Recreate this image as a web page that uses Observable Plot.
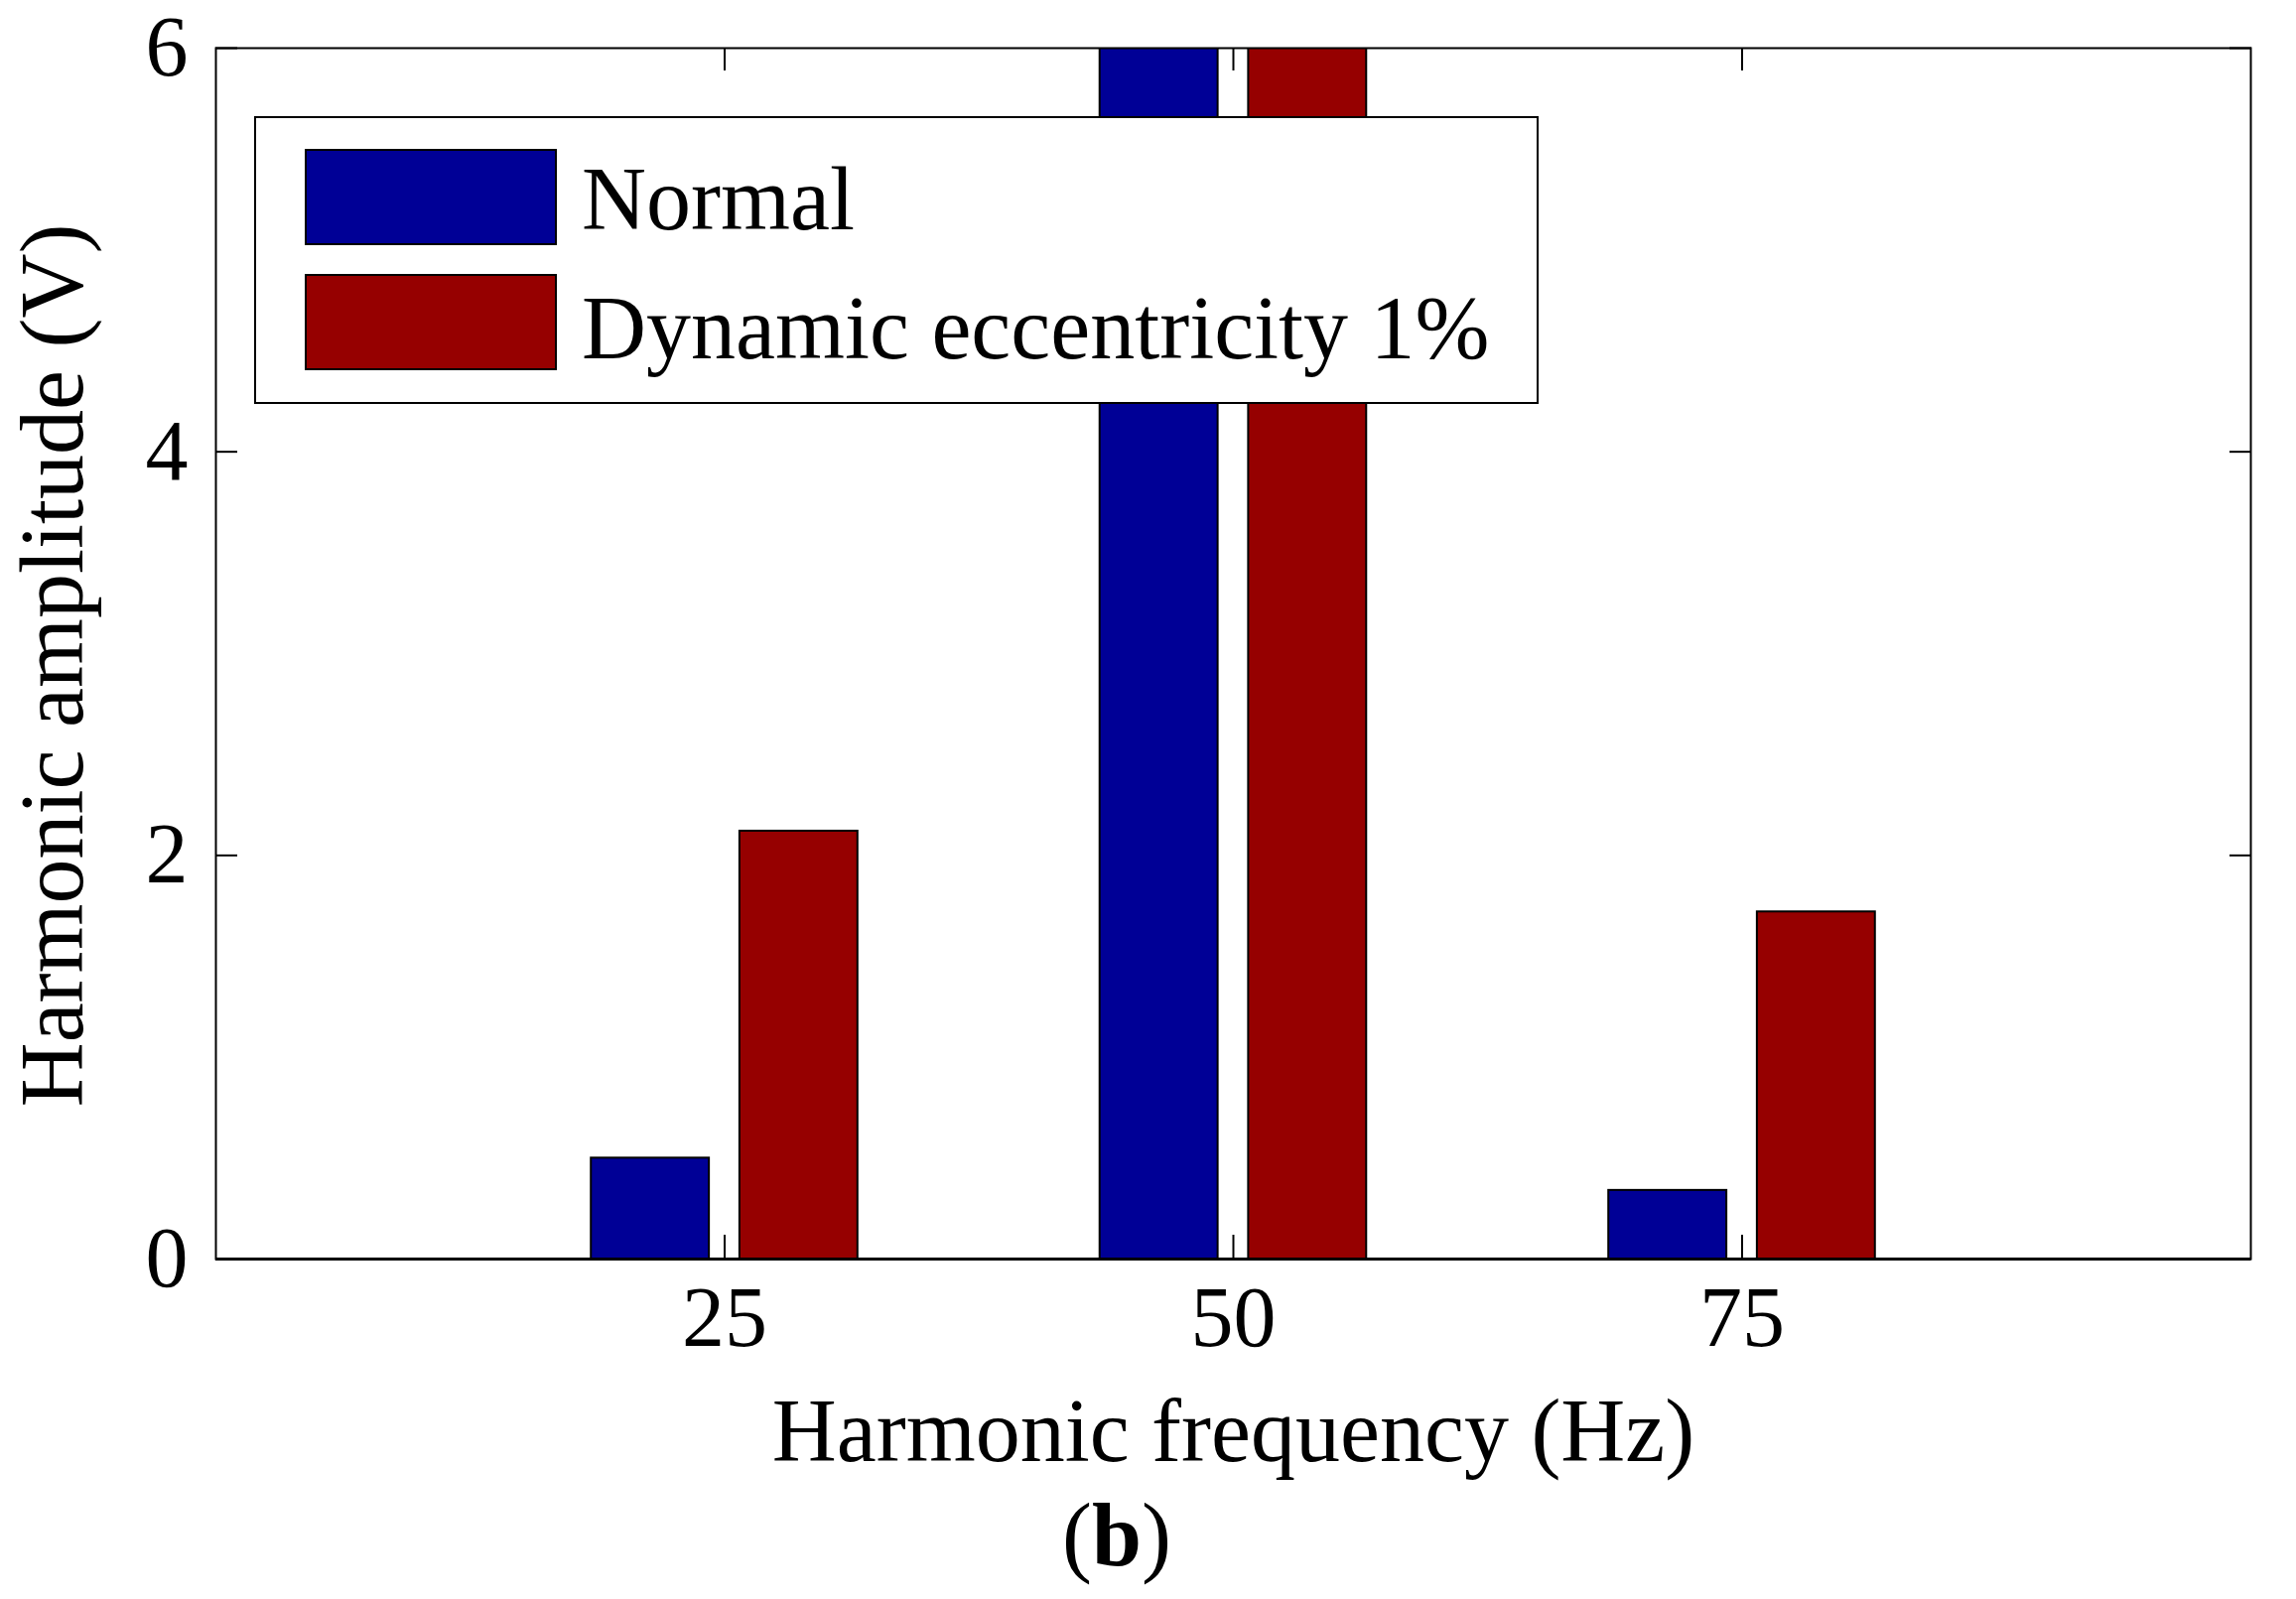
<!DOCTYPE html>
<html>
<head>
<meta charset="utf-8">
<script src="https://cdn.jsdelivr.net/npm/d3@7"></script>
<script src="https://cdn.jsdelivr.net/npm/@observablehq/plot@0.6"></script>
<style>
  html, body { margin: 0; padding: 0; background: #fff; }
  #wrap { position: relative; width: 2313px; height: 1611px; font-family: "Liberation Serif", serif; color: #000; }
  #chart svg { display: block; }
  .legend { position: absolute; left: 256px; top: 117px; width: 1290px; height: 286px; border: 2px solid #000; background: #fff; box-sizing: content-box; }
  .sw { position: absolute; width: 250px; height: 93px; border: 2px solid #000; }
  .lt { position: absolute; font-size: 90px; line-height: 90px; white-space: nowrap; }
  .caption { position: absolute; top: 1502px; left: 0; width: 2250px; text-align: center; font-size: 90px; line-height: 90px; font-weight: normal; }
</style>
</head>
<body>
<div id="wrap">
  <div id="chart"></div>
  <div class="legend" id="legend"></div>
  <div class="caption">(<b>b</b>)</div>
</div>
<script>
const freqs = [25, 50, 75];
const seriesNames = ["Normal", "Dynamic eccentricity 1%"];
const normalValues = [0.5, 6.5, 0.34];
const dynamicValues = [2.12, 6.5, 1.72];
const seriesColors = ["#000096", "#960000"];
const xTicks = [25, 50, 75];
const yTicks = [0, 2, 4, 6];
const xLabel = "Harmonic frequency (Hz)";
const yLabel = "Harmonic amplitude (V)";

// grouped bar geometry (in Hz units, like MATLAB's grouped bar)
const barWidth = 5.8;
const offsets = [-3.65, 3.65];

const data = freqs.flatMap((f, i) => [
  {f, k: 0, s: seriesNames[0], v: normalValues[i]},
  {f, k: 1, s: seriesNames[1], v: dynamicValues[i]}
]);

const W = 2313, H = 1500;
const plot = Plot.plot({
  width: W,
  height: H,
  marginLeft: 217,
  marginRight: 46,
  marginTop: 48,
  marginBottom: H - 1268,
  style: {fontFamily: "Liberation Serif", fontSize: "86px", color: "#000", background: "#fff"},
  x: {domain: [0, 100]},
  y: {domain: [0, 6]},
  color: {domain: seriesNames, range: seriesColors},
  marks: [
    Plot.rectY(data, {
      x1: d => d.f + offsets[d.k] - barWidth / 2,
      x2: d => d.f + offsets[d.k] + barWidth / 2,
      y1: 0,
      y2: "v",
      fill: "s",
      stroke: "#000",
      strokeWidth: 2,
      clip: true
    }),
    Plot.axisX(xTicks, {anchor: "bottom", tickSize: 0, tickPadding: 26, tickFormat: d => String(d), label: null}),
    Plot.axisX(xTicks, {anchor: "bottom", tickSize: -24, tickFormat: () => "", label: null, strokeWidth: 2}),
    Plot.axisX(xTicks, {anchor: "top", tickSize: -22, tickFormat: () => "", label: null, strokeWidth: 2}),
    Plot.axisY(yTicks, {anchor: "left", tickSize: 0, tickPadding: 28, tickFormat: d => String(d), label: null}),
    Plot.axisY(yTicks, {anchor: "left", tickSize: -22, tickFormat: () => "", label: null, strokeWidth: 2}),
    Plot.axisY(yTicks, {anchor: "right", tickSize: -22, tickFormat: () => "", label: null, strokeWidth: 2}),
    Plot.frame({stroke: "#000", strokeWidth: 2}),
    Plot.ruleY([0], {stroke: "#000", strokeWidth: 3}),
    Plot.text([xLabel], {frameAnchor: "bottom", text: d => d, dy: 140, lineAnchor: "top", textAnchor: "middle", fontSize: 90, fill: "#000"}),
    Plot.text([yLabel], {frameAnchor: "left", text: d => d, rotate: -90, dx: -163, dy: 12, lineAnchor: "middle", textAnchor: "middle", fontSize: 90, fill: "#000"})
  ]
});
document.getElementById("chart").appendChild(plot);

// legend inside the axes box
const legend = document.getElementById("legend");
const swTops = [31, 157];
const txtTops = [37, 167];
seriesNames.forEach((name, i) => {
  const sw = document.createElement("div");
  sw.className = "sw";
  sw.style.left = "49px";
  sw.style.top = swTops[i] + "px";
  sw.style.background = seriesColors[i];
  legend.appendChild(sw);
  const t = document.createElement("div");
  t.className = "lt";
  t.style.left = "328px";
  t.style.top = txtTops[i] + "px";
  t.textContent = name;
  legend.appendChild(t);
});
</script>
</body>
</html>
